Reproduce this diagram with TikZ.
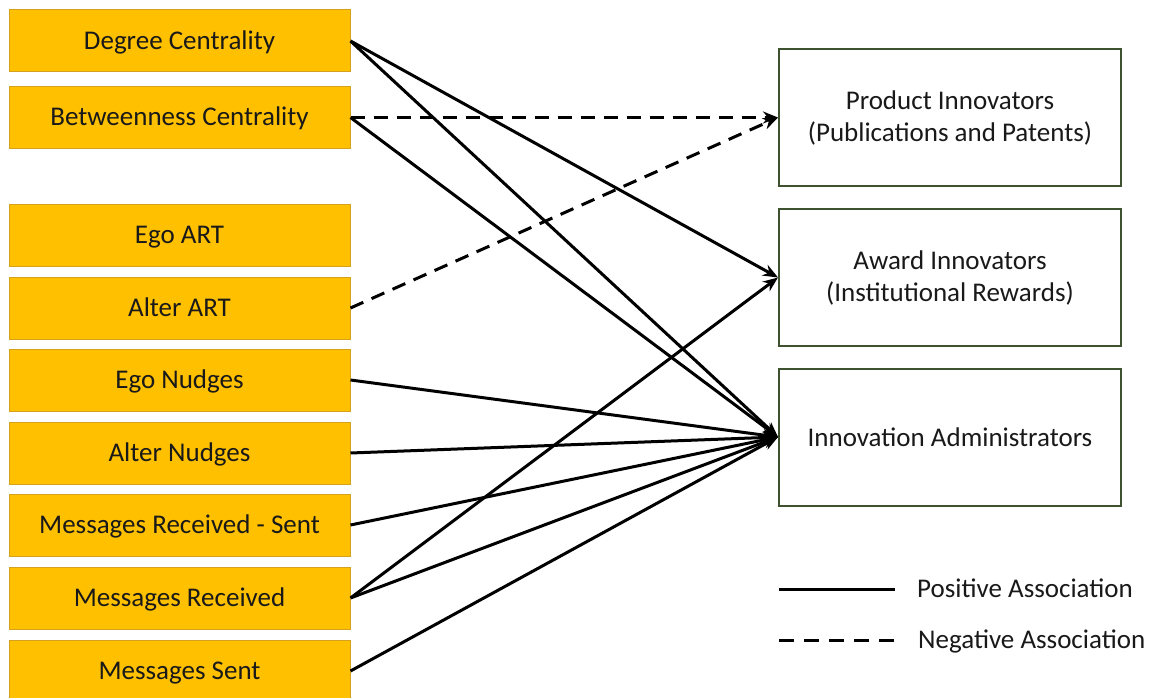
\documentclass[tikz,border=0pt]{standalone}
\usepackage{fontspec}
\setmainfont{Carlito}
\usetikzlibrary{arrows.meta}
\definecolor{boxgold}{RGB}{255,192,0}
\definecolor{goldedge}{RGB}{214,162,30}
\definecolor{outgreen}{RGB}{62,82,48}
\definecolor{inkgrey}{RGB}{25,25,25}
\tikzset{factor/.style={draw=goldedge, fill=boxgold, line width=1pt, minimum width=341pt, minimum height=62pt, inner sep=0pt, text height=20pt, text depth=3pt, text=inkgrey, font=\fontsize{27}{32}\selectfont}}
\tikzset{outcome/.style={draw=outgreen, fill=white, line width=2pt, minimum width=342pt, minimum height=137pt, inner sep=0pt, align=center, text=inkgrey, font=\fontsize{27}{32}\selectfont}}
\tikzset{key/.style={anchor=west, inner sep=0pt, text height=20pt, text depth=3pt, text=inkgrey, font=\fontsize{27}{32}\selectfont}}
\tikzset{poslink/.style={line width=3pt, -{Stealth[length=15pt,width=12pt]}}}
\tikzset{neglink/.style={poslink, dash pattern=on 14pt off 9pt}}
\tikzset{posline/.style={line width=3pt}}
\tikzset{negline/.style={posline, dash pattern=on 15pt off 10pt}}

\begin{document}
\begin{tikzpicture}[x=1pt, y=-1pt]
\clip (0,0) rectangle (1149,698);
\fill[white] (0,0) rectangle (1149,698);
% network measures
\node[factor] (deg) at (179.5,41) {Degree Centrality};
\node[factor] (btw) at (179.5,117.5) {Betweenness Centrality};
\node[factor] (egoart) at (179.5,235) {Ego ART};
\node[factor] (altart) at (179.5,308) {Alter ART};
\node[factor] (egonud) at (179.5,380) {Ego Nudges};
\node[factor] (altnud) at (179.5,453) {Alter Nudges};
\node[factor] (msgdiff) at (179.5,525) {Messages Received - Sent};
\node[factor] (msgrec) at (179.5,598) {Messages Received};
\node[factor] (msgsent) at (179.5,671) {Messages Sent};
% innovator types
\node[outcome] (prod) at (950,117.5) {Product Innovators\\(Publications and Patents)};
\node[outcome] (award) at (950,277.5) {Award Innovators\\(Institutional Rewards)};
\node[outcome] (admin) at (950,437) {Innovation Administrators};
% associations
\draw[poslink] (deg.east) -- (award.west);
\draw[poslink] (deg.east) -- (admin.west);
\draw[neglink] (btw.east) -- (prod.west);
\draw[poslink] (btw.east) -- (admin.west);
\draw[neglink] (altart.east) -- (prod.west);
\draw[poslink] (egonud.east) -- (admin.west);
\draw[poslink] (altnud.east) -- (admin.west);
\draw[poslink] (msgdiff.east) -- (admin.west);
\draw[poslink] (msgrec.east) -- (admin.west);
\draw[poslink] (msgrec.east) -- (award.west);
\draw[poslink] (msgsent.east) -- (admin.west);
% legend
\coordinate (posa) at (779,589);
\coordinate (posb) at (895,589);
\coordinate (nega) at (779,640);
\coordinate (negb) at (895,640);
\draw[posline] (posa) -- (posb);
\draw[negline] (nega) -- (negb);
\node[key] (poskey) at (917,589) {Positive Association};
\node[key] (negkey) at (918,640) {Negative Association};
\end{tikzpicture}
\end{document}
